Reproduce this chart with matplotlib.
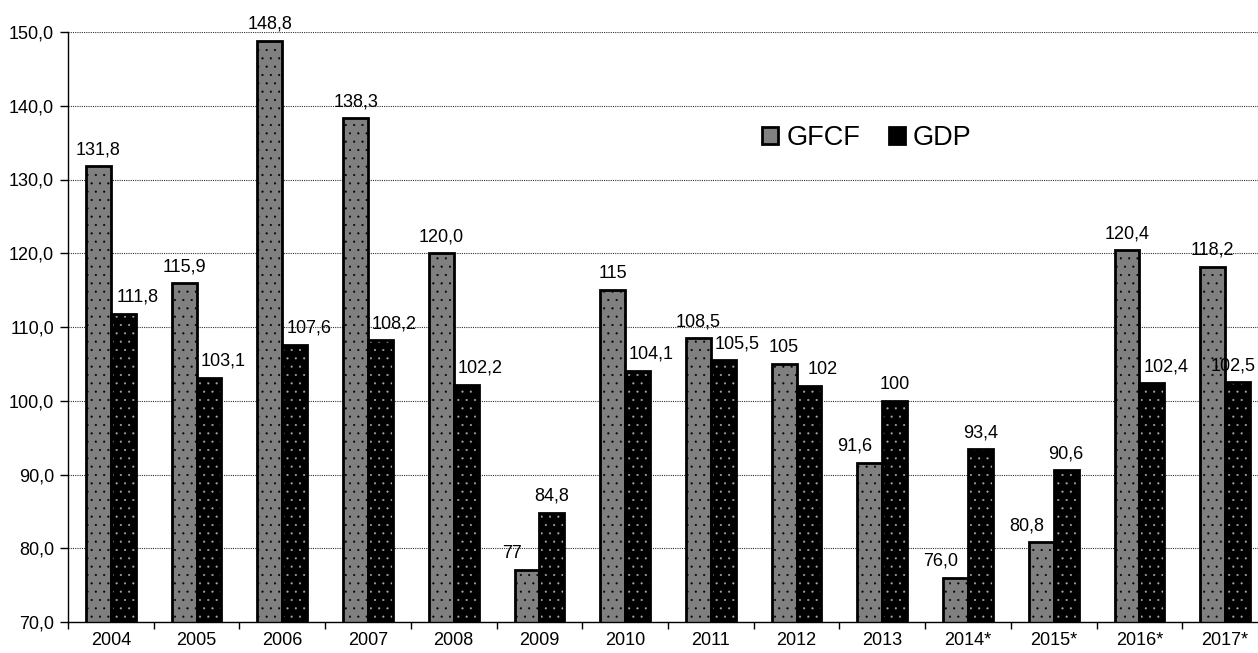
import numpy as np
import matplotlib
matplotlib.use("Agg")
import matplotlib.pyplot as plt
from matplotlib.patches import Patch
from matplotlib.ticker import FixedLocator, FuncFormatter

plt.rcParams['font.family'] = ['Liberation Sans', 'DejaVu Sans']
plt.rcParams['hatch.linewidth'] = 0.3

years = ["2004", "2005", "2006", "2007", "2008", "2009", "2010",
         "2011", "2012", "2013", "2014*", "2015*", "2016*", "2017*"]
gfcf = [131.8, 115.9, 148.8, 138.3, 120.0, 77, 115, 108.5, 105, 91.6, 76.0, 80.8, 120.4, 118.2]
gdp = [111.8, 103.1, 107.6, 108.2, 102.2, 84.8, 104.1, 105.5, 102, 100, 93.4, 90.6, 102.4, 102.5]
gfcf_text = ["131,8", "115,9", "148,8", "138,3", "120,0", "77", "115",
             "108,5", "105", "91,6", "76,0", "80,8", "120,4", "118,2"]
gdp_text = ["111,8", "103,1", "107,6", "108,2", "102,2", "84,8", "104,1",
            "105,5", "102", "100", "93,4", "90,6", "102,4", "102,5"]

fig = plt.figure(figsize=(12.58, 6.53), dpi=100)
# axes run a little past the right edge, like the original
ax = fig.add_axes([68 / 1258, 31 / 653, 1200 / 1258, 590 / 653])

x = np.arange(len(years))
w = 0.29

# fill + dot pattern, then black outline on top
ax.bar(x - w / 2, gfcf, w, color='#808080', edgecolor='black',
       hatch='..', linewidth=0, zorder=2)
ax.bar(x - w / 2, gfcf, w, fill=False, edgecolor='black', linewidth=2, zorder=3)
ax.bar(x + w / 2, gdp, w, color='black', edgecolor='#a8a8a8',
       hatch='..', linewidth=0, zorder=2)
ax.bar(x + w / 2, gdp, w, fill=False, edgecolor='black', linewidth=2, zorder=3)

# value labels: shorter bar of a pair gets nudged sideways
labels = []
for i in range(len(years)):
    dx1 = -15 if gfcf[i] < gdp[i] else 0
    dx2 = 14 if gdp[i] < gfcf[i] else 0
    labels.append(ax.annotate(gfcf_text[i], (x[i] - w / 2, gfcf[i]), xytext=(dx1, 8),
                              textcoords='offset pixels', ha='center', va='bottom',
                              fontsize=13, annotation_clip=False, zorder=4))
    labels.append(ax.annotate(gdp_text[i], (x[i] + w / 2, gdp[i]), xytext=(dx2, 8),
                              textcoords='offset pixels', ha='center', va='bottom',
                              fontsize=13, annotation_clip=False, zorder=4))

ax.set_ylim(70, 150)
ax.set_xlim(-0.5, len(years) - 0.5)
ax.set_yticks(np.arange(70, 151, 10))
ax.yaxis.set_major_formatter(FuncFormatter(lambda v, p: f"{v:.1f}".replace('.', ',')))
ax.set_xticks(x)
ax.set_xticklabels(years)
ax.xaxis.set_minor_locator(FixedLocator(np.arange(-0.5, len(years), 1)))
ax.tick_params(axis='x', which='major', length=0, labelsize=13, pad=7)
ax.tick_params(axis='x', which='minor', length=5, width=1, direction='out')
ax.tick_params(axis='y', length=6, width=1, direction='out', labelsize=13, pad=4)

ax.yaxis.grid(True, linestyle=(0, (1, 1)), color='#333333', linewidth=0.8, zorder=0)
ax.set_axisbelow(True)
for s in ['top', 'right']:
    ax.spines[s].set_visible(False)
ax.spines['left'].set_linewidth(1)
ax.spines['bottom'].set_linewidth(1)

handles = [Patch(facecolor='#808080', edgecolor='black', linewidth=2, label='GFCF'),
           Patch(facecolor='black', edgecolor='black', linewidth=2, label='GDP')]
fig.legend(handles=handles, loc='center left', bbox_to_anchor=(762 / 1258, 1 - 138 / 653),
           ncol=2, frameon=False, fontsize=19.5, handlelength=0.6, handleheight=0.6,
           handletextpad=0.3, columnspacing=1.05, borderpad=0, borderaxespad=0)

# keep labels inside the figure (pull back any that run past the right edge)
fig.canvas.draw()
fig_w = fig.bbox.width
for t in labels:
    bb = t.get_window_extent()
    if bb.x1 > fig_w - 1:
        ox, oy = t.xyann
        t.xyann = (ox - (bb.x1 - fig_w + 2), oy)

fig.savefig("out.png", dpi=100)
